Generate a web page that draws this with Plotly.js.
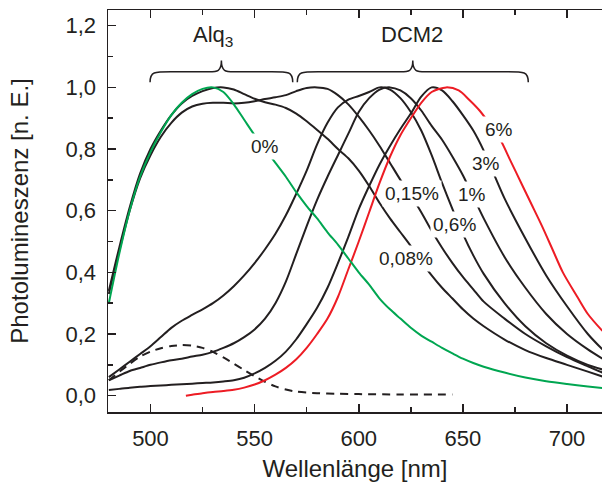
<!DOCTYPE html>
<html>
<head>
<meta charset="utf-8">
<script src="https://cdn.plot.ly/plotly-3.0.1.min.js"></script>
<style>
html,body{margin:0;padding:0;background:#fff;overflow:hidden;}
#chart{width:602px;height:483px;}
</style>
</head>
<body>
<div id="chart"></div>
<script>
// Wavelength grid (nm) for most spectra
var lam = [480,485,490,495,500,505,510,515,520,525,530,535,540,545,550,555,560,565,570,575,580,585,590,595,600,605,610,615,620,625,630,635,640,645,650,655,660,670,680,690,700,710,717];

// Normalised photoluminescence, DCM2 concentration in Alq3
var pl0   = [0.30,0.46,0.60,0.71,0.79,0.855,0.91,0.95,0.978,0.995,1.0,0.985,0.945,0.895,0.845,0.80,0.755,0.71,0.66,0.615,0.575,0.53,0.49,0.445,0.40,0.36,0.315,0.28,0.25,0.22,0.195,0.175,0.155,0.137,0.12,0.106,0.094,0.075,0.059,0.047,0.038,0.03,0.025];
var pl008 = [0.34,0.48,0.61,0.72,0.80,0.86,0.91,0.948,0.972,0.988,0.998,1.0,0.993,0.978,0.963,0.952,0.944,0.933,0.915,0.89,0.862,0.833,0.80,0.77,0.73,0.68,0.625,0.575,0.53,0.485,0.435,0.39,0.35,0.315,0.28,0.25,0.225,0.182,0.148,0.122,0.10,0.078,0.062];
var pl015 = [0.33,0.47,0.60,0.705,0.78,0.84,0.885,0.918,0.938,0.947,0.95,0.95,0.948,0.95,0.955,0.962,0.968,0.975,0.988,0.998,1.0,0.995,0.975,0.945,0.905,0.86,0.81,0.755,0.70,0.65,0.595,0.535,0.48,0.43,0.385,0.345,0.305,0.25,0.20,0.16,0.125,0.095,0.075];
var pl06  = [0.06,0.085,0.11,0.135,0.16,0.19,0.22,0.243,0.262,0.28,0.30,0.325,0.355,0.39,0.43,0.475,0.525,0.585,0.655,0.73,0.815,0.885,0.935,0.96,0.972,0.985,1.0,0.993,0.965,0.92,0.86,0.78,0.69,0.605,0.525,0.455,0.395,0.30,0.225,0.17,0.13,0.10,0.085];
var pl1   = [0.05,0.065,0.08,0.09,0.10,0.108,0.115,0.12,0.127,0.133,0.142,0.155,0.17,0.19,0.215,0.25,0.30,0.37,0.46,0.55,0.635,0.71,0.78,0.85,0.92,0.965,0.993,1.0,0.99,0.965,0.925,0.875,0.83,0.775,0.715,0.645,0.575,0.45,0.35,0.265,0.20,0.15,0.12];
var pl3   = [0.018,0.022,0.026,0.029,0.031,0.033,0.035,0.037,0.039,0.041,0.043,0.046,0.05,0.058,0.072,0.09,0.113,0.143,0.183,0.232,0.285,0.35,0.43,0.515,0.605,0.68,0.75,0.81,0.865,0.915,0.97,1.0,0.99,0.955,0.91,0.86,0.795,0.64,0.51,0.39,0.29,0.20,0.15];

var lam6 = [517,520,525,530,535,540,545,550,555,560,565,570,575,580,585,590,595,600,605,610,615,620,625,630,635,642,648,653,658,663,668,673,678,683,688,693,698,705,710,717];
var pl6  = [0.0,0.003,0.008,0.012,0.015,0.019,0.026,0.036,0.05,0.068,0.09,0.118,0.155,0.20,0.25,0.32,0.41,0.50,0.595,0.69,0.775,0.845,0.90,0.95,0.985,1.0,0.99,0.96,0.925,0.88,0.83,0.76,0.69,0.62,0.55,0.475,0.40,0.32,0.265,0.21];

var lamD = [480,485,490,495,500,505,510,515,520,525,530,535,540,545,550,555,560,565,570,580,590,600,620,645];
var plD  = [0.05,0.077,0.103,0.127,0.143,0.154,0.161,0.164,0.162,0.155,0.142,0.124,0.104,0.083,0.063,0.045,0.03,0.02,0.013,0.008,0.006,0.005,0.004,0.004];

// Curve labels
var labelText = ["0%","0,08%","0,15%","0,6%","1%","3%","6%"];
var labelX    = [555.0,622.7,625.8,646.2,654.4,661.1,667.5];
var labelY    = [0.807,0.445,0.656,0.555,0.653,0.754,0.862];

// Group labels and braces
var groupText = ["Alq<sub>3</sub>","DCM2"];
var groupX    = [529.9,625.6];
var groupY    = [1.167,1.173];
var braceX0   = [499.8,570.5];
var braceX1   = [568.3,681.4];
var braceEnd = 1.017, braceBar = 1.051, braceTip = 1.087;

var BLACK = '#231f20', GREEN = '#00a651', RED = '#ed1c24';
var FONT = 'Liberation Sans, Arial, Helvetica, sans-serif';

function tr(x, y, color, dash) {
  return {x: x, y: y, type: 'scatter', mode: 'lines',
    line: {color: color, width: 2, shape: 'spline', smoothing: 0.8, dash: dash || 'solid'},
    hoverinfo: 'skip', showlegend: false};
}
var data = [
  tr(lamD, plD, BLACK, '8px,6px'),
  tr(lam, pl3, BLACK),
  tr(lam, pl1, BLACK),
  tr(lam, pl06, BLACK),
  tr(lam, pl015, BLACK),
  tr(lam, pl008, BLACK),
  tr(lam6, pl6, RED),
  tr(lam, pl0, GREEN)
];

function brace(x0, x1) {
  var xm = (x0 + x1) / 2;
  var e = braceEnd, b = braceBar, t = braceTip;
  return 'M' + x0 + ',' + e +
    ' C' + x0 + ',' + b + ' ' + (x0 + 2) + ',' + b + ' ' + (x0 + 10) + ',' + b +
    ' L' + (xm - 6) + ',' + b +
    ' C' + (xm - 2) + ',' + b + ' ' + xm + ',' + b + ' ' + xm + ',' + t +
    ' C' + xm + ',' + b + ' ' + (xm + 2) + ',' + b + ' ' + (xm + 6) + ',' + b +
    ' L' + (x1 - 10) + ',' + b +
    ' C' + (x1 - 2) + ',' + b + ' ' + x1 + ',' + b + ' ' + x1 + ',' + e;
}
var shapes = [];
for (var i = 0; i < braceX0.length; i++) {
  shapes.push({type: 'path', xref: 'x', yref: 'y', path: brace(braceX0[i], braceX1[i]),
    line: {color: BLACK, width: 1.5}});
}

var annotations = [];
for (var j = 0; j < labelText.length; j++) {
  annotations.push({x: labelX[j], y: labelY[j], xref: 'x', yref: 'y', text: labelText[j],
    showarrow: false, bgcolor: '#ffffff', borderpad: 2,
    font: {family: FONT, size: 19, color: BLACK}});
}
for (var k = 0; k < groupText.length; k++) {
  annotations.push({x: groupX[k], y: groupY[k], xref: 'x', yref: 'y', text: groupText[k],
    showarrow: false, font: {family: FONT, size: 22, color: BLACK}});
}

var layout = {
  width: 602, height: 483,
  margin: {l: 108, r: 0, t: 10, b: 71},
  paper_bgcolor: '#ffffff', plot_bgcolor: '#ffffff',
  separators: ',.',
  font: {family: FONT, color: BLACK},
  showlegend: false,
  xaxis: {
    range: [479.6, 716.8], tick0: 500, dtick: 50,
    ticks: 'inside', ticklen: 8, tickwidth: 1.5, tickcolor: BLACK,
    minor: {dtick: 25, ticks: 'inside', ticklen: 5, tickwidth: 1.5, tickcolor: BLACK},
    showline: true, linecolor: BLACK, linewidth: 1.5, mirror: 'ticks',
    showgrid: false, zeroline: false,
    tickfont: {family: FONT, size: 22, color: BLACK},
    ticklabelstandoff: 6,
    title: {text: 'Wellenlänge [nm]', font: {family: FONT, size: 24, color: BLACK}, standoff: 10}
  },
  yaxis: {
    range: [-0.053, 1.251], tick0: 0, dtick: 0.2, tickformat: '.1f',
    ticks: 'inside', ticklen: 8, tickwidth: 1.5, tickcolor: BLACK,
    minor: {dtick: 0.1, ticks: 'inside', ticklen: 5, tickwidth: 1.5, tickcolor: BLACK},
    showline: true, linecolor: BLACK, linewidth: 1.5, mirror: false,
    showgrid: false, zeroline: false,
    tickfont: {family: FONT, size: 22, color: BLACK},
    ticklabelstandoff: 6,
    title: {text: 'Photolumineszenz [n. E.]', font: {family: FONT, size: 24, color: BLACK}, standoff: 30}
  },
  shapes: shapes,
  annotations: annotations
};

Plotly.newPlot('chart', data, layout, {displayModeBar: false, staticPlot: true});
</script>
</body>
</html>
